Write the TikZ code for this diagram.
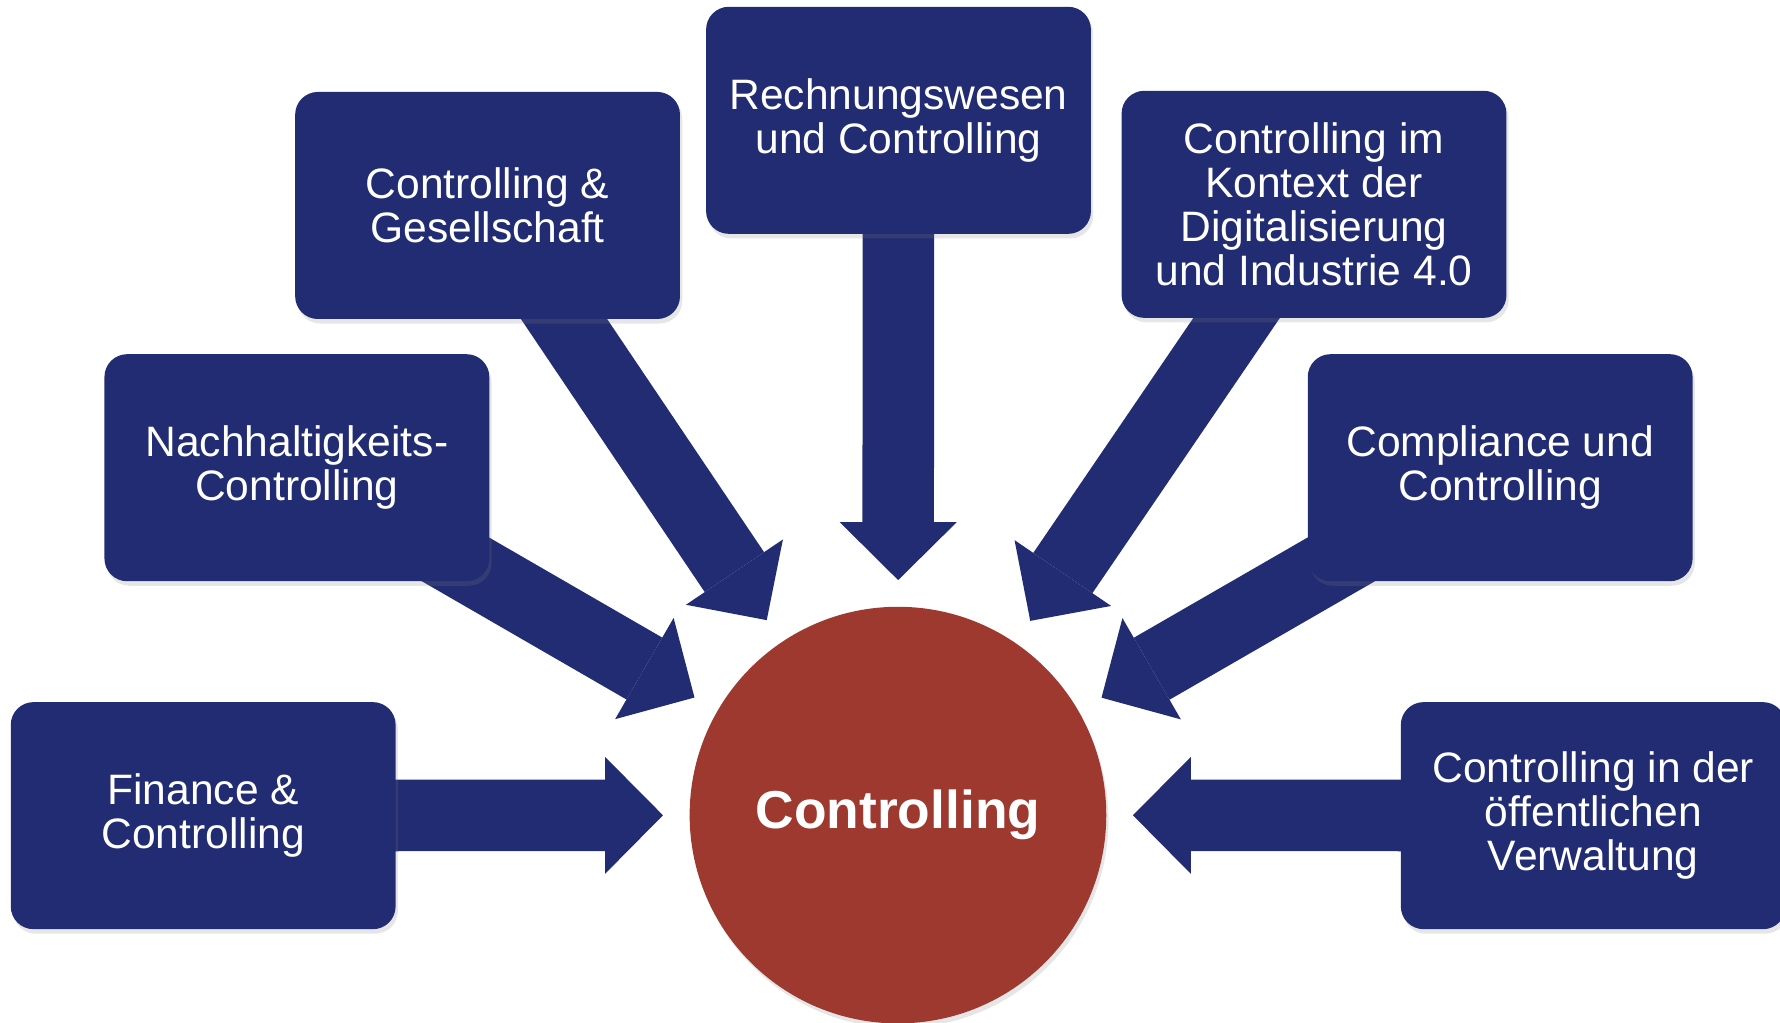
\documentclass[tikz,border=0pt]{standalone}
\usepackage{fontspec}
\setmainfont{Liberation Sans}
\usetikzlibrary{arrows.meta,calc,backgrounds,shadows}
\definecolor{navy}{RGB}{33,44,114}
\definecolor{brick}{RGB}{158,57,48}

\begin{document}
\begin{tikzpicture}[x=1pt,y=1pt]
\tikzstyle{every node}+=[inner sep=0pt]
\tikzstyle{topic}=[rectangle, rounded corners=20pt, fill=navy, text=white, minimum width=339pt, minimum height=200pt, align=center, font=\fontsize{37.5}{39}\selectfont, drop shadow={shadow xshift=2pt, shadow yshift=-4pt, opacity=.2}]
\tikzstyle{feed}=[navy, line width=63pt, -{Triangle[length=51pt,width=103pt,line width=0pt]}]
\useasboundingbox (0,0) rectangle (1568,-901);
\node [circle, fill=brick, minimum size=367pt, text=white, font=\bfseries\fontsize{47}{50}\selectfont, drop shadow={shadow xshift=2pt, shadow yshift=-4pt, opacity=.2}] (ctr) at (791,-718) {\raisebox{-3pt}{Controlling}};
\node [topic] (fin) at (179,-718.5) {Finance \&\\Controlling};
\node [topic] (nach) at (261.5,-412) {Nachhaltigkeits-\\Controlling};
\node [topic] (ges) at (429.5,-181) {Controlling \&\\Gesellschaft};
\node [topic] (rech) at (791.5,-106) {Rechnungswesen\\und Controlling};
\node [topic] (kon) at (1157.5,-180) {Controlling im\\Kontext der\\Digitalisierung\\und Industrie 4.0};
\node [topic] (comp) at (1321.5,-412) {Compliance und\\Controlling};
\node [topic] (verw) at (1403.5,-718.5) {Controlling in der\\öffentlichen\\Verwaltung};
% tips sit 207pt off the centre of the circle
\foreach \b in {fin,nach,ges,rech,kon,comp,verw}
  \coordinate (tip-\b) at ($(ctr)!207pt!(\b)$);
\begin{scope}[on background layer]
\foreach \b in {fin,nach,ges,rech,kon,comp,verw}
  \draw [feed] (\b.center) -- (tip-\b);
\end{scope}
\end{tikzpicture}
\end{document}
